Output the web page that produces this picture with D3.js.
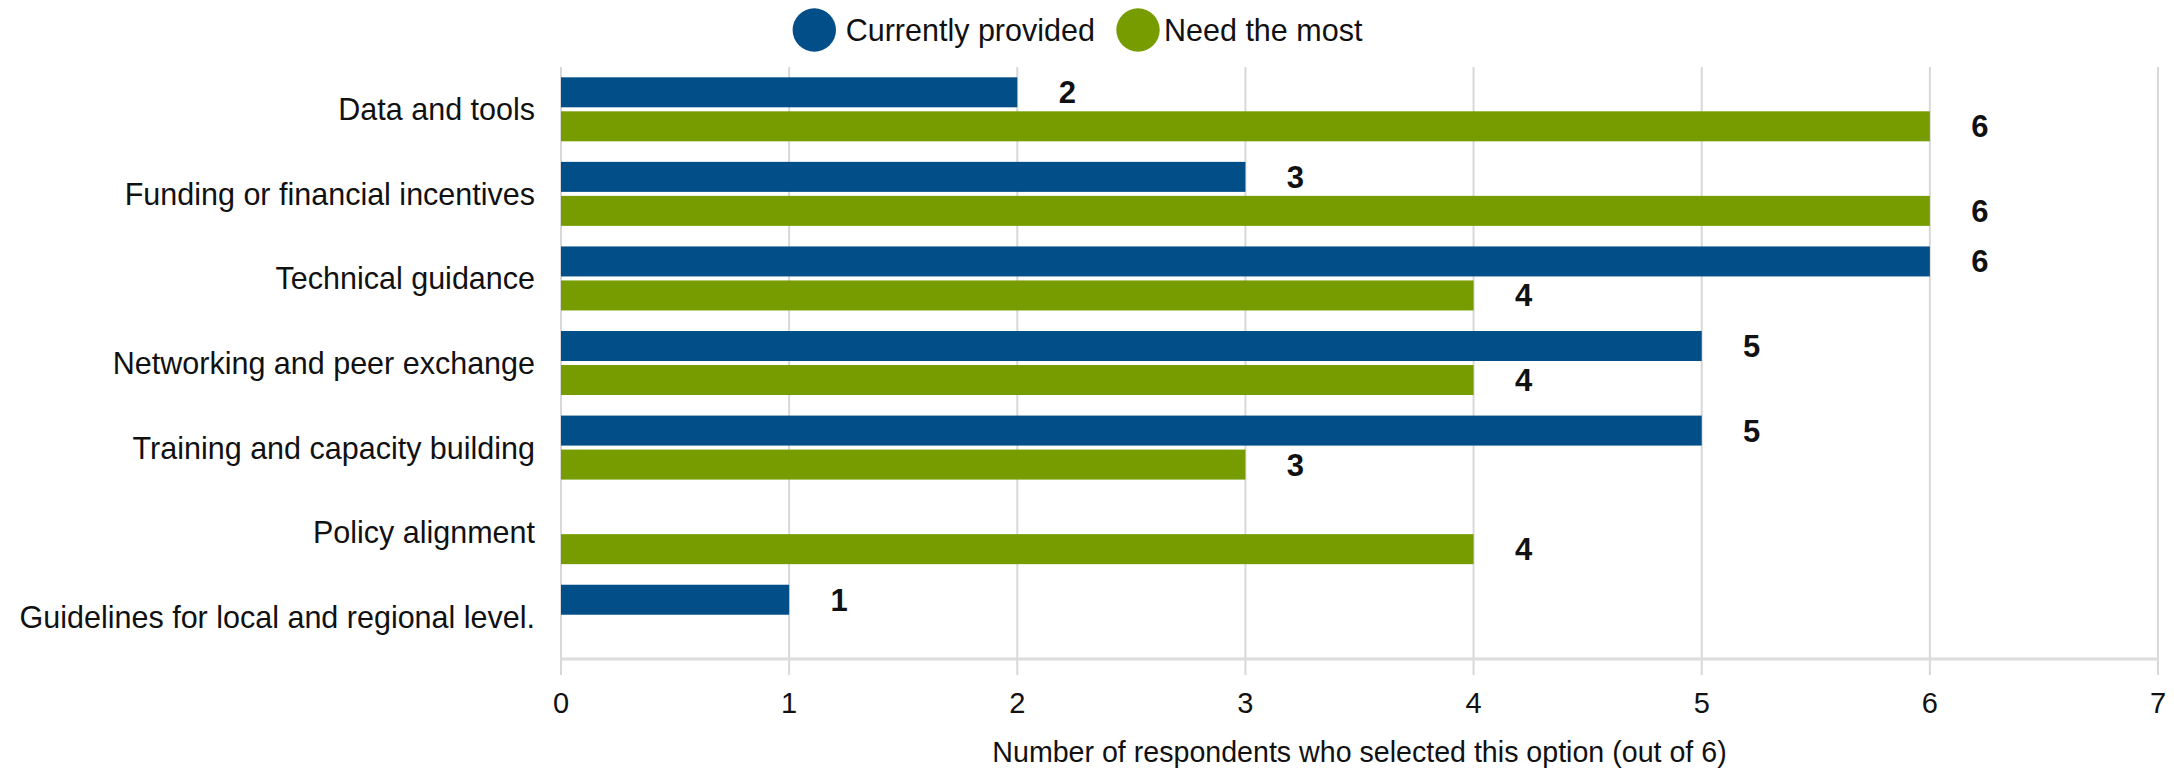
<!DOCTYPE html>
<html>
<head>
<meta charset="utf-8">
<script src="https://cdn.jsdelivr.net/npm/d3@7"></script>
<style>
  html, body { margin: 0; padding: 0; background: #ffffff; }
  svg { display: block; font-family: "Liberation Sans", Arial, Helvetica, sans-serif; }
</style>
</head>
<body>
<svg id="chart" width="2174" height="770"></svg>
<script>
const categories = [
  "Data and tools",
  "Funding or financial incentives",
  "Technical guidance",
  "Networking and peer exchange",
  "Training and capacity building",
  "Policy alignment",
  "Guidelines for local and regional level."
];
const seriesNames = ["Currently provided", "Need the most"];
const currentlyProvided = [2, 3, 6, 5, 5, null, 1];
const needTheMost = [6, 6, 4, 4, 3, 4, null];
const xTicks = [0, 1, 2, 3, 4, 5, 6, 7];
const xAxisTitle = "Number of respondents who selected this option (out of 6)";
const colors = ["#024e88", "#779c00"];

(function () {
const svg = d3.select("#chart");
const plotLeft = 561, plotRight = 2158, plotTop = 67, plotBottom = 659;

const x = d3.scaleLinear().domain([0, 7]).range([plotLeft, plotRight]);
const y = d3.scaleBand().domain(categories).range([plotTop, plotBottom]).paddingInner(0).paddingOuter(0);
const sub = d3.scaleBand().domain(seriesNames).range([10.3, 74.3]).paddingInner(4 / 34).paddingOuter(0);

// gridlines (extend below axis as tick marks)
svg.append("g").selectAll("line").data(xTicks).join("line")
  .attr("x1", d => x(d)).attr("x2", d => x(d))
  .attr("y1", plotTop).attr("y2", plotBottom + 16)
  .attr("stroke", "#d8d8d8").attr("stroke-width", 2);

// baseline
svg.append("line")
  .attr("x1", plotLeft).attr("x2", plotRight + 1)
  .attr("y1", plotBottom).attr("y2", plotBottom)
  .attr("stroke", "#dcdcdc").attr("stroke-width", 3);

// tick labels
svg.append("g").selectAll("text").data(xTicks).join("text")
  .attr("x", d => x(d)).attr("y", 713)
  .attr("text-anchor", "middle")
  .attr("font-size", "29px").attr("fill", "#111")
  .text(d => d);

// axis title
svg.append("text")
  .attr("x", (plotLeft + plotRight) / 2).attr("y", 762)
  .attr("text-anchor", "middle")
  .attr("font-size", "28.6px").attr("fill", "#111")
  .text(xAxisTitle);

// category labels
svg.append("g").selectAll("text").data(categories).join("text")
  .attr("x", 535).attr("y", d => y(d) + y.bandwidth() / 2 + 11)
  .attr("text-anchor", "end")
  .attr("font-size", "30.5px").attr("fill", "#111")
  .text(d => d);

// bars
const series = [currentlyProvided, needTheMost];
series.forEach((vals, si) => {
  const data = categories.map((c, i) => ({ c, v: vals[i] })).filter(d => d.v != null && d.v > 0);
  const g = svg.append("g");
  g.selectAll("rect").data(data).join("rect")
    .attr("x", x(0))
    .attr("y", d => y(d.c) + sub(seriesNames[si]))
    .attr("width", d => x(d.v) - x(0))
    .attr("height", sub.bandwidth())
    .attr("fill", colors[si]);
  g.selectAll("text").data(data).join("text")
    .attr("x", d => x(d.v) + 50)
    .attr("y", d => y(d.c) + sub(seriesNames[si]) + sub.bandwidth() / 2 + 11)
    .attr("text-anchor", "middle")
    .attr("font-size", "31px").attr("font-weight", "bold").attr("fill", "#111")
    .text(d => d.v);
});

// legend
const legendItems = [
  { name: seriesNames[0], color: colors[0], cx: 814.3, tx: 845.7 },
  { name: seriesNames[1], color: colors[1], cx: 1138, tx: 1164 }
];
const lg = svg.append("g");
legendItems.forEach(it => {
  lg.append("circle").attr("cx", it.cx).attr("cy", 30).attr("r", 21.7).attr("fill", it.color);
  lg.append("text").attr("x", it.tx).attr("y", 41)
    .attr("font-size", "30.5px").attr("fill", "#111").text(it.name);
});
})();
</script>
</body>
</html>
